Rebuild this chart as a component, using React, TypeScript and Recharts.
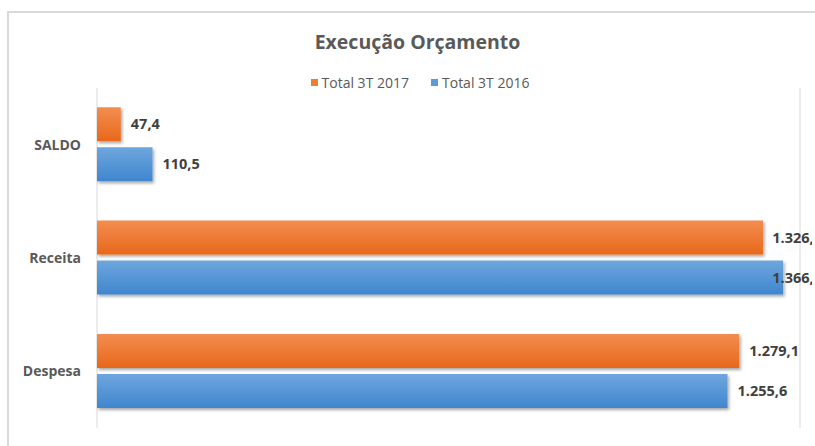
import React from "react";
import { BarChart, Bar, XAxis, YAxis, CartesianGrid, Legend, LabelList } from "recharts";

const categories = ["SALDO", "Receita", "Despesa"];
const total2017 = [47.4, 1326.5, 1279.1];
const total2016 = [110.5, 1366.3, 1255.6];
const seriesNames = ["Total 3T 2017", "Total 3T 2016"];
const seriesColors = ["#ED7D31", "#5B9BD5"];
const xTicks = [0, 100, 200, 300, 400, 500, 600, 700, 800, 900, 1000, 1100, 1200, 1300, 1400];

const data = categories.map((name, i) => ({
  name,
  t2017: total2017[i],
  t2016: total2016[i],
}));

const FONT = "'Open Sans', 'Noto Sans', sans-serif";
const LABEL_LIMIT = 822; // excel pulls labels back inside the chart area

// 1.279,1 style
function fmt(v: number) {
  const [int, dec] = v.toFixed(1).split(".");
  return int.replace(/\B(?=(\d{3})+(?!\d))/g, ".") + "," + dec;
}

function ValueLabel(props: any) {
  const { x, y, width, height, value } = props;
  const text = fmt(Number(value));
  const est = text.length * 7.3;
  let tx = x + width + 10;
  let anchor = "start";
  if (tx + est > LABEL_LIMIT) {
    tx = LABEL_LIMIT;
    anchor = "end";
  }
  return (
    <text x={tx} y={y + height / 2} dy="0.35em" textAnchor={anchor} fill="#404040" fontSize={14.5} fontWeight={700} fontFamily={FONT}>
      {text}
    </text>
  );
}

function LegendContent() {
  return (
    <div style={{ display: "flex", justifyContent: "center", gap: 22, fontFamily: FONT, fontSize: 14, color: "#595959" }}>
      {seriesNames.map((n, i) => (
        <div key={n} style={{ display: "flex", alignItems: "center" }}>
          <span style={{ display: "inline-block", width: 7, height: 7, background: seriesColors[i], marginRight: 4 }} />
          {n}
        </div>
      ))}
    </div>
  );
}

export default function App() {
  return (
    <div style={{ position: "absolute", left: 0, top: 0, width: 815, height: 446, overflow: "hidden", background: "#fff" }}>
      <div style={{ position: "absolute", left: 7, top: 11, width: 900, height: 500, border: "2px solid #d9d9d9", boxSizing: "border-box" }} />
      <div style={{ position: "absolute", left: 0, width: 835, top: 28, textAlign: "center", fontFamily: FONT, fontWeight: 700, fontSize: 19.5, color: "#595959" }}>
        Execução Orçamento
      </div>
      <div style={{ position: "absolute", left: 0, top: 0 }}>
        <BarChart
          width={812}
          height={446}
          data={data}
          layout="vertical"
          margin={{ top: 88, right: 12, bottom: 18, left: 0 }}
          barCategoryGap="17%"
          barGap={6}
          style={{ fontFamily: FONT }}
        >
          <defs>
            <linearGradient id="gOrange" x1="0" y1="0" x2="0" y2="1">
              <stop offset="0%" stopColor="#F38D50" />
              <stop offset="100%" stopColor="#E8681B" />
            </linearGradient>
            <linearGradient id="gBlue" x1="0" y1="0" x2="0" y2="1">
              <stop offset="0%" stopColor="#6EA6DE" />
              <stop offset="100%" stopColor="#3F86CE" />
            </linearGradient>
            <filter id="shadow" x="-5%" y="-20%" width="115%" height="160%">
              <feDropShadow dx="1.5" dy="2" stdDeviation="1.5" floodColor="#000" floodOpacity="0.35" />
            </filter>
          </defs>
          <CartesianGrid horizontal={false} stroke="#d9d9d9" />
          <XAxis
            type="number"
            domain={[0, 1400]}
            ticks={xTicks}
            tick={false}
            axisLine={false}
            tickLine={false}
            height={0}
          />
          <YAxis
            type="category"
            dataKey="name"
            width={97}
            axisLine={false}
            tickLine={false}
            tickMargin={10}
            tick={{ fill: "#595959", fontSize: 14, fontWeight: 700 }}
          />
          <Legend
            verticalAlign="middle"
            align="center"
            content={<LegendContent />}
            wrapperStyle={{ top: 73, left: 0, width: 840 }}
          />
          <Bar dataKey="t2017" name={seriesNames[0]} fill="url(#gOrange)" filter="url(#shadow)" isAnimationActive={false}>
            <LabelList dataKey="t2017" content={<ValueLabel />} />
          </Bar>
          <Bar dataKey="t2016" name={seriesNames[1]} fill="url(#gBlue)" filter="url(#shadow)" isAnimationActive={false}>
            <LabelList dataKey="t2016" content={<ValueLabel />} />
          </Bar>
        </BarChart>
      </div>
    </div>
  );
}
